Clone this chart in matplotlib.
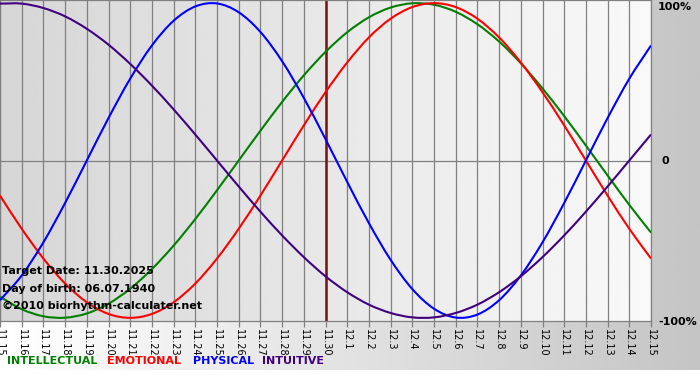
"""Biorhythm chart, 11.15 to 12.15, for a birth date of 06.07.1940."""

import matplotlib
matplotlib.use("Agg")
import matplotlib.pyplot as plt
import numpy as np
from matplotlib.patches import PathPatch
from matplotlib.path import Path

W, H = 700, 380

# Day labels along the x axis (one per day).
DAY_LABELS = ["11.15", "11.16", "11.17", "11.18", "11.19", "11.20", "11.21",
              "11.22", "11.23", "11.24", "11.25", "11.26", "11.27", "11.28",
              "11.29", "11.30", "12.1", "12.2", "12.3", "12.4", "12.5", "12.6",
              "12.7", "12.8", "12.9", "12.10", "12.11", "12.12", "12.13",
              "12.14", "12.15"]
TARGET_INDEX = 15  # 11.30

# Cycle values (-1..1) read at each day.
PHYSICAL = [-0.888, -0.731, -0.520, -0.270, 0.000, 0.270, 0.520, 0.731, 0.888,
            0.979, 0.998, 0.942, 0.817, 0.631, 0.398, 0.136, -0.136, -0.398,
            -0.631, -0.817, -0.942, -0.998, -0.979, -0.888, -0.731, -0.520,
            -0.270, 0.000, 0.270, 0.520, 0.731]
EMOTIONAL = [-0.223, -0.434, -0.623, -0.782, -0.901, -0.975, -1.000, -0.975,
             -0.901, -0.782, -0.623, -0.434, -0.223, 0.000, 0.223, 0.434,
             0.623, 0.782, 0.901, 0.975, 1.000, 0.975, 0.901, 0.782, 0.623,
             0.434, 0.223, 0.000, -0.223, -0.434, -0.623]
INTELLECTUAL = [-0.866, -0.945, -0.990, -0.999, -0.972, -0.910, -0.815, -0.690,
                -0.541, -0.372, -0.189, 0.000, 0.189, 0.372, 0.541, 0.690,
                0.815, 0.910, 0.972, 0.999, 0.990, 0.945, 0.866, 0.756, 0.618,
                0.458, 0.282, 0.095, -0.095, -0.282, -0.458]
INTUITIVE = [0.997, 0.997, 0.969, 0.916, 0.837, 0.736, 0.614, 0.476, 0.325,
             0.165, 0.000, -0.165, -0.325, -0.476, -0.614, -0.736, -0.837,
             -0.916, -0.969, -0.997, -0.997, -0.969, -0.916, -0.837, -0.736,
             -0.614, -0.476, -0.325, -0.165, 0.000, 0.165]

SERIES = (
    ("INTELLECTUAL", INTELLECTUAL, "#008000"),
    ("EMOTIONAL", EMOTIONAL, "#ff0000"),
    ("PHYSICAL", PHYSICAL, "#0000ff"),
    ("INTUITIVE", INTUITIVE, "#400080"),
)
LEGEND_X = (7, 107, 193, 262)

INFO_LINES = ["Target Date: 11.30.2025", "Day of birth: 06.07.1940",
              "\u00a92010 biorhythm-calculater.net"]

plt.rcParams["font.family"] = ["DejaVu Sans"]


def px(x, y):
    """Pixel position (from top-left) to figure fraction."""
    return x / W, 1 - y / H


def smooth_path(xs, ys):
    """Path through the data points drawn as cubic Bezier segments."""
    pts = np.column_stack([np.asarray(xs, float), np.asarray(ys, float)])
    padded = np.vstack([2 * pts[0] - pts[1], pts, 2 * pts[-1] - pts[-2]])
    verts = [pts[0]]
    codes = [Path.MOVETO]
    for i in range(len(pts) - 1):
        p0, p1, p2, p3 = padded[i], padded[i + 1], padded[i + 2], padded[i + 3]
        verts += [p1 + (p2 - p0) / 6, p2 - (p3 - p1) / 6, p2]
        codes += [Path.CURVE4] * 3
    return Path(verts, codes)


fig = plt.figure(figsize=(W / 100, H / 100), dpi=100)
fig.patch.set_facecolor("white")

# Page background: white to grey, left to right, above the bottom strip.
bg = fig.add_axes([0, 10 / H, 1, 1 - 10 / H], zorder=-10)
bg.imshow(np.linspace(1.0, 0.77, 256)[None, :], cmap="gray", vmin=0, vmax=1,
          aspect="auto", extent=(0, 1, 0, 1))
bg.set_axis_off()

plot_left, plot_right, plot_top, plot_bottom = 0, 651, 0, 321
ax = fig.add_axes([plot_left / W, 1 - plot_bottom / H,
                   (plot_right - plot_left) / W, (plot_bottom - plot_top) / H])
days = np.arange(len(DAY_LABELS))
ax.set_xlim(0, len(DAY_LABELS) - 1)
ax.set_ylim(-1.02, 1.02)

ax.imshow(np.linspace(0.84, 0.975, 256)[None, :], cmap="gray", vmin=0, vmax=1,
          aspect="auto", extent=(0, len(DAY_LABELS) - 1, -1.02, 1.02), zorder=0)

for d in days:
    ax.axvline(d, color="#808080", lw=0.9, zorder=1)
ax.axhline(0, color="#808080", lw=0.9, zorder=1)
ax.axvline(TARGET_INDEX, color="#7a1010", lw=1.8, zorder=2)

for name, values, color in SERIES:
    ax.add_patch(PathPatch(smooth_path(days, values), facecolor="none",
                           edgecolor=color, lw=1.5, zorder=3))

for side in ("top", "bottom", "left", "right"):
    ax.spines[side].set_color("#808080")
    ax.spines[side].set_linewidth(0.9)

ax.set_yticks([])
ax.set_xticks(days)
ax.set_xticklabels(DAY_LABELS, rotation=270, fontsize=7, va="top", ha="center")
ax.tick_params(axis="x", length=4, width=0.9, color="#808080", pad=2)

for i, line in enumerate(INFO_LINES):
    fig.text(*px(2, 271 + 17.5 * i), line, fontsize=8, fontweight="bold",
             va="center", ha="left", color="black")

fig.text(*px(658, 7), "100%", fontsize=8, fontweight="bold", va="center")
fig.text(*px(661, 161), "0", fontsize=8, fontweight="bold", va="center")
fig.text(*px(658, 322), "-100%", fontsize=8, fontweight="bold", va="center")

for (name, values, color), x in zip(SERIES, LEGEND_X):
    fig.text(*px(x, 361), name, fontsize=8, fontweight="bold",
             va="center", ha="left", color=color)

fig.savefig("out.png", dpi=100)
